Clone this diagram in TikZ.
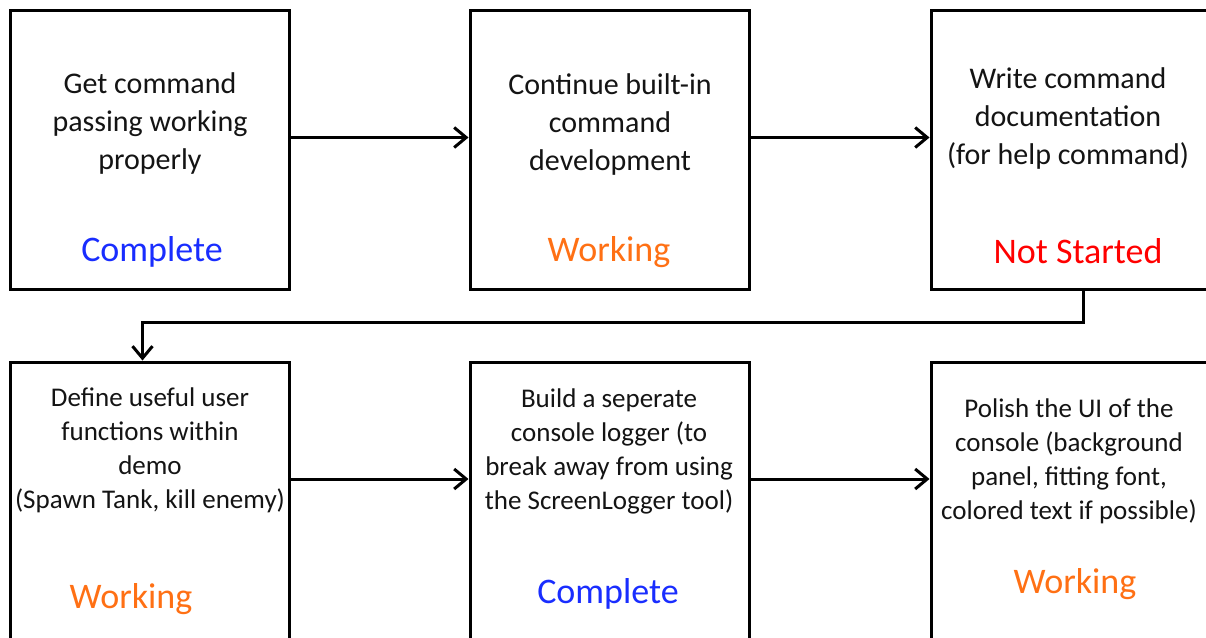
\documentclass[tikz,border=0pt]{standalone}
\usepackage{fontspec}
\setmainfont{Carlito}
\usetikzlibrary{arrows.meta}
\definecolor{doneblue}{RGB}{25,45,255}
\definecolor{workorange}{RGB}{255,112,20}
\definecolor{todored}{RGB}{255,0,0}
\tikzset{
  task/.style={draw=black, line width=3pt, minimum width=279pt, minimum height=279pt, inner sep=0pt},
  topdesc/.style={align=center, font=\fontsize{30}{38}\selectfont, text=black!92, inner sep=0pt},
  botdesc/.style={align=center, font=\fontsize{27}{34}\selectfont, text=black!92, inner sep=0pt},
  status/.style={font=\fontsize{36}{42}\selectfont, inner sep=0pt},
  flow/.style={line width=3pt, -{Straight Barb[length=12pt,width=20pt,line width=3pt]}},
}
\begin{document}
\begin{tikzpicture}[x=1pt,y=-1pt]
\useasboundingbox (0,0) rectangle (1206,637);
\clip (0,0) rectangle (1206,637);
\fill[white] (0,0) rectangle (1206,637);

% task boxes
\node[task] (b1) at (149.5,149.5) {};
\node[task] (b2) at (609.5,149.5) {};
\node[task] (b3) at (1070.5,149.5) {};
\node[task] (b4) at (149.5,501.5) {};
\node[task] (b5) at (609.5,501.5) {};
\node[task] (b6) at (1070.5,501.5) {};

% descriptions
\node[topdesc] (d1) at (150,123.5) {Get command\\passing working\\properly};
\node[topdesc] (d2) at (610,124.5) {Continue built-in\\command\\development};
\node[topdesc] (d3) at (1068,118.5) {Write command\\documentation\\(for help command)};
\node[botdesc] (d4) at (150,450.5) {Define useful user\\functions within\\demo\\(Spawn Tank, kill enemy)};
\node[botdesc] (d5) at (609,451) {Build a seperate\\console logger (to\\break away from using\\the ScreenLogger tool)};
\node[botdesc] (d6) at (1069,461.5) {Polish the UI of the\\console (background\\panel, fitting font,\\colored text if possible)};

% status labels
\node[status, text=doneblue] (s1) at (152,252) {Complete};
\node[status, text=workorange] (s2) at (609,252) {Working};
\node[status, text=todored] (s3) at (1078,251) {Not Started};
\node[status, text=workorange] (s4) at (131,599) {Working};
\node[status, text=doneblue] (s5) at (608,594) {Complete};
\node[status, text=workorange] (s6) at (1075,584) {Working};

% connectors
\draw[flow] ([yshift=12pt]b1.east) -- ([yshift=12pt]b2.west);
\draw[flow] ([yshift=12pt]b2.east) -- ([yshift=12pt]b3.west);
\draw[flow] ([xshift=12.5pt]b3.south) -- ++(0,32) -| ([xshift=-7pt]b4.north);
\draw[flow] ([yshift=22.5pt]b4.east) -- ([yshift=22.5pt]b5.west);
\draw[flow] ([yshift=22.5pt]b5.east) -- ([yshift=22.5pt]b6.west);
\end{tikzpicture}
\end{document}
